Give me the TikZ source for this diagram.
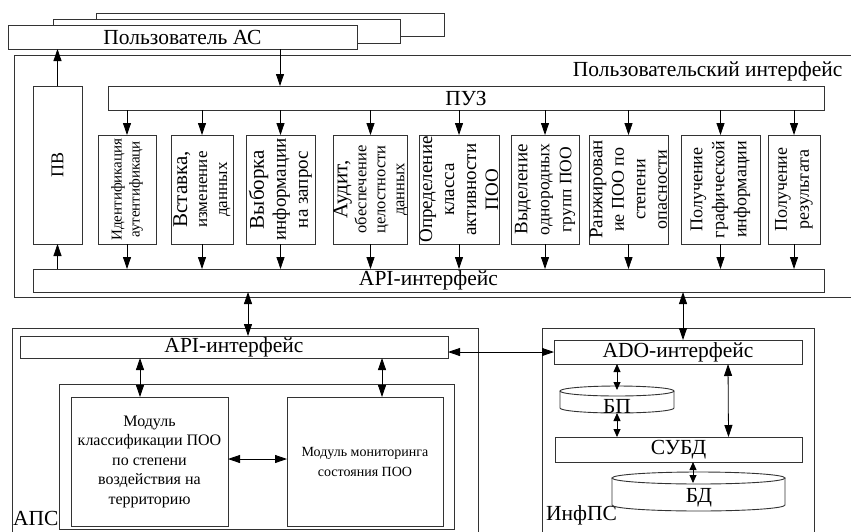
\documentclass[tikz,border=0pt]{standalone}
\usepackage{fontspec}
\setmainfont{Liberation Serif}
\usetikzlibrary{arrows.meta}
\newcommand{\fsz}[2]{\fontsize{#1}{#2}\selectfont}

\tikzset{
  box/.style={draw=black!80, fill=white, inner sep=0pt, outer sep=0pt, line width=0.9pt},
  vbox/.style={box, rotate=90, minimum width=109, align=center},
  arr/.style={-{Triangle[length=12pt,width=8pt]}, line width=0.8pt},
  darr/.style={{Triangle[length=12pt,width=8pt]}-{Triangle[length=12pt,width=8pt]}, line width=0.8pt},
  sdarr/.style={{Triangle[length=8pt,width=7pt]}-{Triangle[length=8pt,width=7pt]}, line width=0.8pt},
}

\begin{document}
\begin{tikzpicture}[x=1pt,y=-1pt,font=\fsz{21.5}{24}]
  \useasboundingbox (0,0) rectangle (851,531);
  \fill[white] (0,0) rectangle (851,531);
  \clip (0,0) rectangle (851,531);
  % Users
  \node[box, minimum width=348, minimum height=23] (user3) at (270,24.5) {};
  \node[box, minimum width=347, minimum height=24] (user2) at (226.5,31) {};
  \node[box, minimum width=349, minimum height=24] (user) at (182.5,37) {Пользователь АС};
  % User interface
  \node[box, fill=none, anchor=north west, minimum width=850, minimum height=242] (ui) at (14,55) {};
  \node[anchor=east] (uilbl) at (846,71) {Пользовательский интерфейс};
  \node[box, minimum width=716, minimum height=24] (puz) at (466,98) {ПУЗ};
  \node[box, rotate=90, minimum width=158, minimum height=49, font=\fsz{18}{20}] (pv) at (57.5,165) {ПВ};
  \node[box, minimum width=791, minimum height=23] (api) at (428.5,280.5) {API-интерфейс};
  % Functions
  \node[vbox, minimum height=58, font=\fsz{15}{18}] (b1) at (127,189.5) {Идентификация\\аутентификаци};
  \node[vbox, minimum height=62, font=\fsz{17}{20}] (b2) at (202,189.5) {{\fsz{21}{20}Вставка,}\\изменение\\данных};
  \node[vbox, minimum height=69, font=\fsz{19}{22}] (b3) at (280.5,189.5) {{\fsz{21}{22}Выборка}\\информации\\на запрос};
  \node[vbox, minimum height=69, font=\fsz{16.5}{19}] (b4) at (370.5,189.5) {{\fsz{21}{19}Аудит,}\\обеспечение\\целостности\\данных};
  \node[vbox, minimum height=80, font=\fsz{19}{22}] (b5) at (459,189.5) {Определение\\класса\\активности\\ПОО};
  \node[vbox, minimum height=68, font=\fsz{17.5}{22}] (b6) at (545,189.5) {{\fsz{19}{22}Выделение}\\однородных\\групп ПОО};
  \node[vbox, minimum height=79, font=\fsz{18}{21.5}] (b7) at (628.5,189.5) {{\fsz{19}{21.5}Ранжирован}\\ие ПОО по\\степени\\опасности};
  \node[vbox, minimum height=79, font=\fsz{18}{22}] (b8) at (720.5,189.5) {Получение\\графической\\информации};
  \node[vbox, minimum height=52, font=\fsz{18}{22}] (b9) at (794,189.5) {Получение\\результата};
  \foreach \i in {1,...,9} {
    \draw[arr] (puz.south -| b\i.east) -- (b\i.east);
    \draw[arr] (b\i.west) -- (b\i.west |- api.north);
  }
  \draw[arr] (pv.east) -- (pv.east |- user.south);
  \draw[arr] (api.north -| pv.west) -- (pv.west);
  \draw[arr] ([xshift=97.5]user.south) -- ([xshift=97.5]user.south |- puz.north);
  % APS
  \node[box, fill=none, anchor=north west, minimum width=466, minimum height=220] (aps) at (12,328) {};
  \node[anchor=base west, inner sep=0pt] (apslbl) at (13,525) {АПС};
  \node[box, minimum width=428, minimum height=22] (apsapi) at (234,347) {API-интерфейс};
  \node[box, anchor=north west, minimum width=395, minimum height=145] (core) at (59,384) {};
  \node[box, minimum width=157, minimum height=129, align=center, font=\fsz{16}{19.5}] (mod1) at (149.5,461.5) {Модуль\\классификации ПОО\\по степени\\воздействия на\\территорию};
  \node[box, minimum width=156, minimum height=129, align=center, font=\fsz{14}{20}] (mod2) at (365,461.5) {Модуль мониторинга\\состояния ПОО};
  \draw[darr] ([xshift=14]apsapi.north) -- ([xshift=14]apsapi.north |- api.south);
  \draw[darr] ([xshift=-9.5]mod1.north) -- ([xshift=-9.5]mod1.north |- apsapi.south);
  \draw[darr] ([xshift=17]mod2.north) -- ([xshift=17]mod2.north |- apsapi.south);
  \draw[darr] ([yshift=2.5]mod1.east) -- ([yshift=2.5]mod2.west);
  % InfPS
  \node[box, fill=none, anchor=north west, minimum width=272, minimum height=220] (inf) at (542,328) {};
  \node[anchor=base west, inner sep=0pt] (inflbl) at (546,520) {ИнфПС};
  \node[box, minimum width=248, minimum height=24] (ado) at (678,352) {ADO-интерфейс};
  \node[box, minimum width=247, minimum height=25] (dbms) at (678.5,449.5) {СУБД};
  % BP
  \draw[box] (560,391) -- (560,408) arc[start angle=180, end angle=0, x radius=57, y radius=5] -- (674,391);
  \draw[box] (617,391) ellipse[x radius=57, y radius=5];
  \node (bp) at (617,406) {БП};
  \coordinate (bptop) at (617,390);
  \coordinate (bpbot) at (617,413);
  % BD
  \draw[box] (612,478) -- (612,505) arc[start angle=180, end angle=0, x radius=86.5, y radius=6] -- (785,478);
  \draw[box] (698.5,478) ellipse[x radius=86.5, y radius=6];
  \node (bd) at (699,498) {БД};
  \coordinate (bdtop) at (693,483);
  \draw[sdarr] (bptop |- ado.south) -- (bptop);
  \draw[sdarr] (bpbot) -- (bpbot |- dbms.north);
  \draw[darr] ([xshift=50]ado.south) -- ([xshift=50]dbms.north);
  \draw[sdarr] (bdtop |- dbms.south) -- (bdtop);
  % Links
  \draw[darr] (apsapi.east |- ado.west) -- (ado.west);
  \draw[darr] ([xshift=5]ado.north) -- ([xshift=5]ado.north |- api.south);
\end{tikzpicture}
\end{document}
